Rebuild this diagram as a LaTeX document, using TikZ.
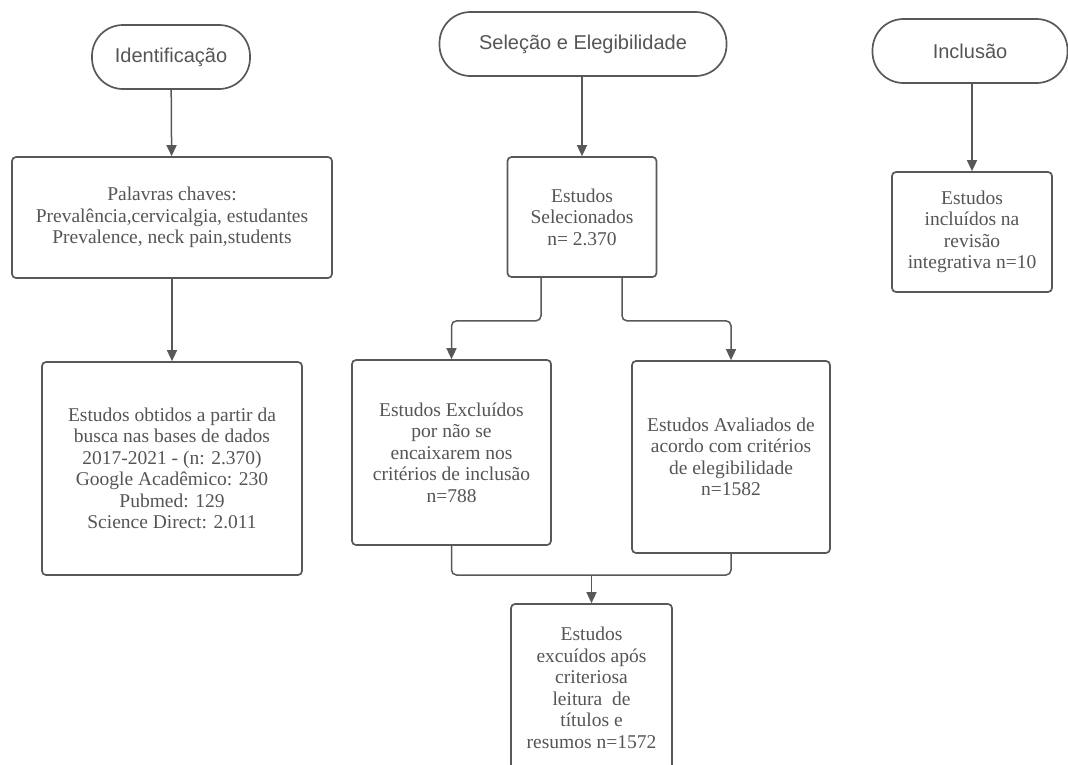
\documentclass[tikz,border=0pt]{standalone}
\usepackage{fontspec}
\setmainfont{Liberation Serif}
\newfontfamily\headfont{Liberation Sans}
\usetikzlibrary{arrows.meta}
\definecolor{linegray}{HTML}{585858}
\definecolor{textgray}{HTML}{555555}

\begin{document}
\begin{tikzpicture}[x=1pt, y=-1pt,
  terminal/.style={draw=linegray, line width=1.7pt, rounded corners=31pt, minimum width=#1, minimum height=64pt, font=\headfont\fontsize{20}{24}\selectfont, text=textgray},
  box/.style 2 args={draw=linegray, line width=1.7pt, rounded corners=4pt, minimum width=#1, minimum height=#2, align=center, inner sep=2pt, font=\fontsize{19.5}{21.5}\selectfont, text=textgray},
  flow/.style={draw=linegray, line width=1.5pt, rounded corners=5pt, -{Triangle[width=10pt,length=11pt]}},
  link/.style={draw=linegray, line width=1.5pt, rounded corners=5pt}]
\useasboundingbox (0,0) rectangle (1068,764);
% fases
\node[terminal=158pt] (ident) at (171,57) {Identificação};
\node[terminal=287pt] (selelg) at (583,44) {Seleção e Elegibilidade};
\node[terminal=195pt] (inclus) at (970,51) {Inclusão};
% identificacao
\node[box={320pt}{121pt}] (palavras) at (172,217.5) {Palavras chaves:\\Prevalência,cervicalgia, estudantes\\Prevalence, neck pain,students};
\node[box={260pt}{213pt}] (obtidos) at (172,468.5) {Estudos obtidos a partir da\\busca nas bases de dados\\2017-2021 - (n: 2.370)\\Google Acadêmico: 230\\Pubmed: 129\\Science Direct: 2.011};
% selecao e elegibilidade
\node[box={149pt}{120pt}] (selec) at (582,217) {Estudos\\Selecionados\\n= 2.370};
\node[box={199pt}{185pt}] (exclu) at (451.5,452.5) {Estudos Excluídos\\por não se\\encaixarem nos\\critérios de inclusão\\n=788};
\node[box={198pt}{192pt}] (avali) at (731,457) {Estudos Avaliados de\\acordo com critérios\\de elegibilidade\\n=1582};
\node[box={161pt}{168pt}] (final) at (591.5,688) {Estudos\\excuídos após\\criteriosa\\leitura~ de\\títulos e\\resumos n=1572};
% inclusao
\node[box={160pt}{120pt}] (incl) at (972,232) {Estudos\\incluídos na\\revisão\\integrativa n=10};
\coordinate (mrg) at (591.5,575);
\draw[flow] (ident) -- (palavras);
\draw[flow] (palavras) -- (obtidos);
\draw[flow] (selelg.south -| selec.north) -- (selec);
\draw[flow] ([xshift=-41pt]selec.south) -- ++(0,43) -| (exclu.north);
\draw[flow] ([xshift=40pt]selec.south) -- ++(0,43) -| (avali.north);
\draw[link] (exclu.south) |- (mrg);
\draw[link] (avali.south) |- (mrg);
\draw[flow] (mrg) -- (final);
\draw[flow] (inclus.south -| incl.north) -- (incl);
\end{tikzpicture}
\end{document}
